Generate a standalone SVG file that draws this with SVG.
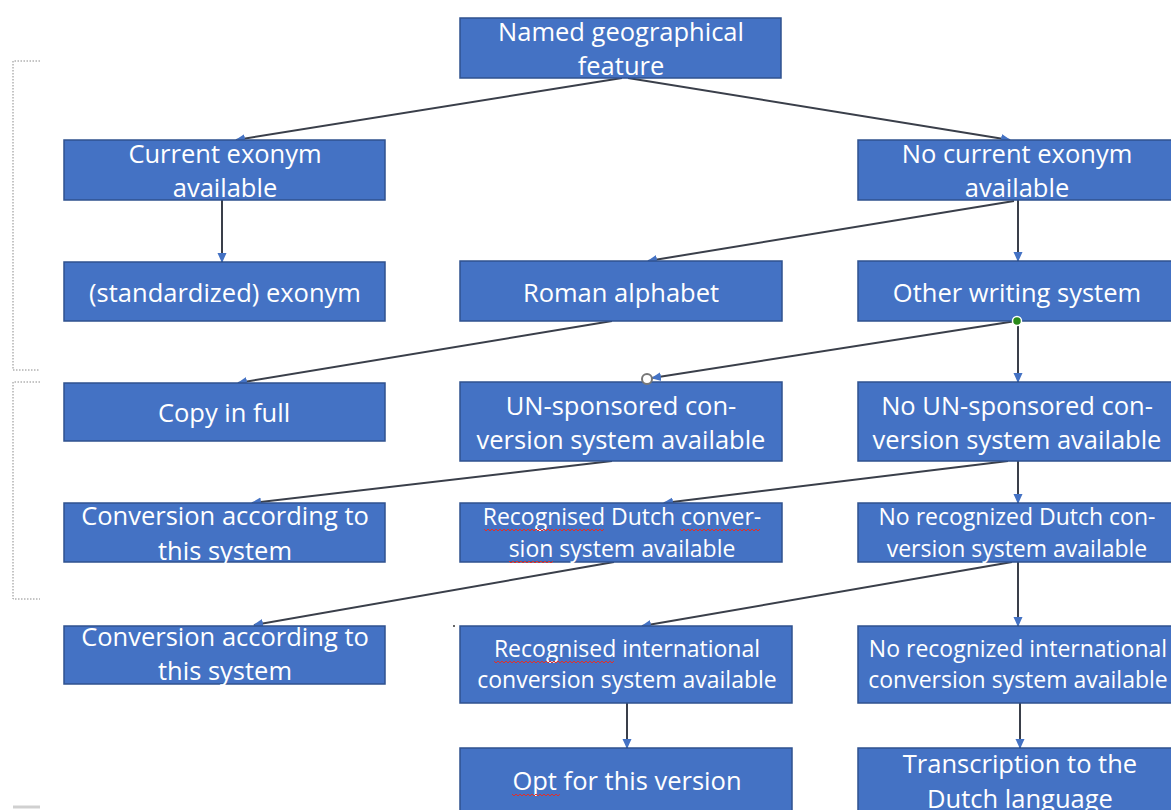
<svg xmlns="http://www.w3.org/2000/svg" width="1171" height="810" viewBox="0 0 1171 810">
<style>
.box{fill:#4472C4;stroke:#2F528F;stroke-width:1.5}
.t{font-family:"Open Sans","Liberation Sans",sans-serif;font-size:25.5px;fill:#ffffff;text-anchor:middle}
.s{font-size:23px}
.c{stroke:#3a3f4a;stroke-width:2;fill:none;marker-end:url(#ah)}
.br{stroke:#8a8a8a;stroke-width:1;stroke-dasharray:1.5,1.5;fill:none}
.sq{stroke:#e0302a;stroke-width:1;fill:none}
</style>
<defs>
<marker id="ah" markerUnits="userSpaceOnUse" markerWidth="10" markerHeight="10" viewBox="0 0 10 10" refX="9" refY="5" orient="auto">
<path d="M0,0.5 L10,5 L0,9.5 Z" fill="#4472C4"/>
</marker>
</defs>
<rect width="1171" height="810" fill="#ffffff"/>
<g id="brackets">
<path class="br" d="M40,61 H13 V370 H40"/>
<path class="br" d="M40,382 H13 V599 H40"/>
<line x1="13" y1="807" x2="40" y2="807" stroke="#d0d0d0" stroke-width="3"/>
<circle cx="454" cy="626" r="1" fill="#333"/>
</g>
<g id="connectors">
<line class="c" x1="622" y1="78" x2="236" y2="140"/>
<line class="c" x1="628" y1="78" x2="1010" y2="140"/>
<line class="c" x1="222" y1="200" x2="222" y2="262"/>
<line class="c" x1="1014" y1="201" x2="648" y2="261"/>
<line class="c" x1="1018" y1="200" x2="1018" y2="261"/>
<line class="c" x1="612" y1="321" x2="238" y2="383"/>
<line class="c" x1="1016" y1="321" x2="652" y2="378"/>
<line class="c" x1="1018" y1="321" x2="1018" y2="382"/>
<line class="c" x1="612" y1="461" x2="252" y2="503"/>
<line class="c" x1="1008" y1="461" x2="664" y2="503"/>
<line class="c" x1="1018" y1="461" x2="1018" y2="503"/>
<line class="c" x1="614" y1="562" x2="254" y2="625"/>
<line class="c" x1="1012" y1="562" x2="642" y2="626"/>
<line class="c" x1="1018" y1="562" x2="1018" y2="626"/>
<line class="c" x1="627" y1="703" x2="627" y2="748"/>
<line class="c" x1="1020" y1="703" x2="1020" y2="748"/>
</g>
<g id="n1"><rect class="box" x="460" y="18" width="321" height="60"/>
<text class="t" x="621" y="41">Named geographical</text><text class="t" x="621" y="75">feature</text></g>
<g id="n2"><rect class="box" x="64" y="140" width="321" height="60"/>
<text class="t" x="225" y="163">Current exonym</text><text class="t" x="225" y="197">available</text></g>
<g id="n3"><rect class="box" x="858" y="140" width="330" height="60"/>
<text class="t" x="1017" y="163">No current exonym</text><text class="t" x="1017" y="197">available</text></g>
<g id="n4"><rect class="box" x="64" y="262" width="321" height="59"/>
<text class="t" x="225" y="302">(standardized) exonym</text></g>
<g id="n5"><rect class="box" x="460" y="261" width="322" height="60"/>
<text class="t" x="621" y="302">Roman alphabet</text></g>
<g id="n6"><rect class="box" x="858" y="261" width="330" height="60"/>
<text class="t" x="1017" y="302">Other writing system</text></g>
<g id="n7"><rect class="box" x="64" y="383" width="321" height="58"/>
<text class="t" x="224" y="422">Copy in full</text></g>
<g id="n8"><rect class="box" x="460" y="382" width="322" height="79"/>
<text class="t" x="621" y="415">UN-sponsored con-</text><text class="t" x="621" y="449">version system available</text></g>
<g id="n9"><rect class="box" x="858" y="382" width="330" height="79"/>
<text class="t" x="1017" y="415">No UN-sponsored con-</text><text class="t" x="1017" y="449">version system available</text></g>
<g id="n10"><rect class="box" x="64" y="503" width="321" height="59"/>
<text class="t" x="225" y="525">Conversion according to</text><text class="t" x="225" y="560">this system</text></g>
<g id="n11"><rect class="box" x="460" y="503" width="322" height="59"/>
<text class="t s" x="622" y="525">Recognised Dutch conver-</text><text class="t s" x="622" y="557">sion system available</text>
<path class="sq" d="M484,529 l2,2 2,-2 2,2 2,-2 2,2 2,-2 2,2 2,-2 2,2 2,-2 2,2 2,-2 2,2 2,-2 2,2 2,-2 2,2 2,-2 2,2 2,-2 2,2 2,-2 2,2 2,-2 2,2 2,-2 2,2 2,-2 2,2 2,-2 2,2 2,-2 2,2 2,-2 2,2 2,-2 2,2 2,-2 2,2 2,-2 2,2 2,-2 2,2 2,-2 2,2 2,-2 2,2 2,-2 2,2 2,-2 2,2 2,-2 2,2 2,-2 2,2 2,-2 2,2 2,-2 2,2 2,-2"/>
<path class="sq" d="M680,529 l2,2 2,-2 2,2 2,-2 2,2 2,-2 2,2 2,-2 2,2 2,-2 2,2 2,-2 2,2 2,-2 2,2 2,-2 2,2 2,-2 2,2 2,-2 2,2 2,-2 2,2 2,-2 2,2 2,-2 2,2 2,-2 2,2 2,-2 2,2 2,-2 2,2 2,-2 2,2 2,-2 2,2 2,-2 2,2 2,-2"/>
<path class="sq" d="M509,561 l2,2 2,-2 2,2 2,-2 2,2 2,-2 2,2 2,-2 2,2 2,-2 2,2 2,-2 2,2 2,-2 2,2 2,-2 2,2 2,-2 2,2 2,-2 2,2 2,-2"/>
</g>
<g id="n12"><rect class="box" x="858" y="503" width="330" height="59"/>
<text class="t s" x="1017" y="525">No recognized Dutch con-</text><text class="t s" x="1017" y="557">version system available</text></g>
<g id="n13"><rect class="box" x="64" y="626" width="321" height="58"/>
<text class="t" x="225" y="646">Conversion according to</text><text class="t" x="225" y="680">this system</text></g>
<g id="n14"><rect class="box" x="460" y="626" width="332" height="77"/>
<text class="t s" x="627" y="657">Recognised international</text><text class="t s" x="627" y="688">conversion system available</text>
<path class="sq" d="M494,661 l2,2 2,-2 2,2 2,-2 2,2 2,-2 2,2 2,-2 2,2 2,-2 2,2 2,-2 2,2 2,-2 2,2 2,-2 2,2 2,-2 2,2 2,-2 2,2 2,-2 2,2 2,-2 2,2 2,-2 2,2 2,-2 2,2 2,-2 2,2 2,-2 2,2 2,-2 2,2 2,-2 2,2 2,-2 2,2 2,-2 2,2 2,-2 2,2 2,-2 2,2 2,-2 2,2 2,-2 2,2 2,-2 2,2 2,-2 2,2 2,-2 2,2 2,-2 2,2 2,-2 2,2 2,-2"/>
</g>
<g id="n15"><rect class="box" x="858" y="626" width="330" height="77"/>
<text class="t s" x="1018" y="657">No recognized international</text><text class="t s" x="1018" y="688">conversion system available</text></g>
<g id="n16"><rect class="box" x="460" y="748" width="332" height="70"/>
<text class="t" x="627" y="790">Opt for this version</text>
<path class="sq" d="M512,794 l2,2 2,-2 2,2 2,-2 2,2 2,-2 2,2 2,-2 2,2 2,-2 2,2 2,-2 2,2 2,-2 2,2 2,-2 2,2 2,-2 2,2 2,-2 2,2 2,-2 2,2 2,-2"/>
</g>
<g id="n17"><rect class="box" x="858" y="748" width="330" height="70"/>
<text class="t" x="1020" y="773">Transcription to the</text><text class="t" x="1020" y="808">Dutch language</text></g>
<g id="handles">
<circle cx="1017" cy="321" r="4.5" fill="#2a8a18" stroke="#ffffff" stroke-width="1.5"/>
<circle cx="647" cy="379" r="5" fill="#ffffff" stroke="#777777" stroke-width="2"/>
</g>
</svg>
